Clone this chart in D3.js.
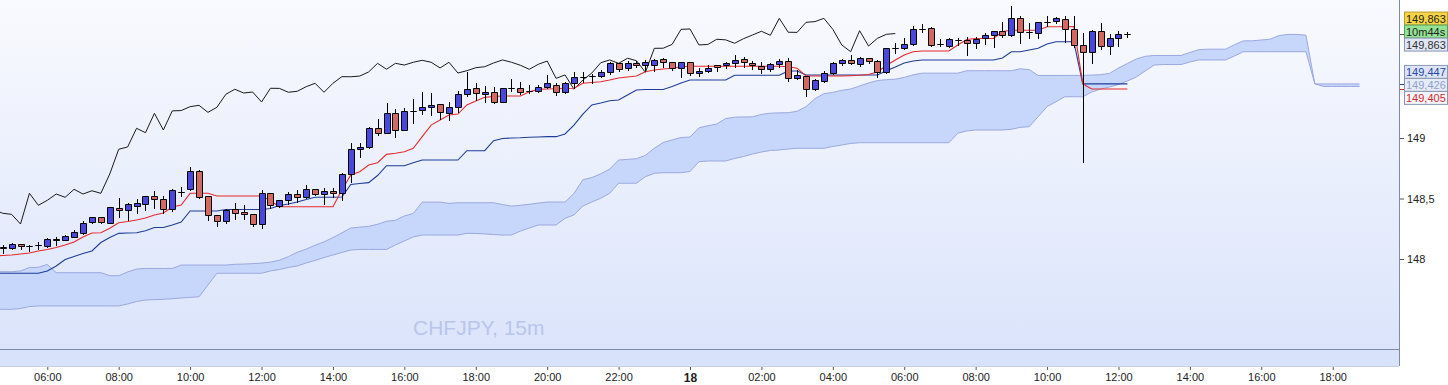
<!DOCTYPE html>
<html><head><meta charset="utf-8">
<script src="https://cdn.jsdelivr.net/npm/d3@7"></script>
<style>html,body{margin:0;padding:0;background:#fff;}svg{display:block;font-family:"Liberation Sans",Arial,sans-serif;}</style>
</head><body><svg id="c" width="1448" height="385"></svg>
<script>
const symbol = "CHFJPY, 15m";
const candleStart = "2023-04-17T04:45:00Z";   // first candle
const lineStart = "2023-04-17T04:30:00Z";     // first value of tenkan/kijun/cloud arrays
const barMinutes = 15;
const chikouShift = 26;

const open = [148.102,148.089,148.122,148.111,148.116,
148.108,148.163,148.157,148.185,148.218,148.303,148.345,148.300,148.424,148.403,
148.441,148.455,148.519,148.494,148.411,148.556,148.576,148.725,148.521,148.361,
148.317,148.411,148.386,148.369,148.292,148.543,148.441,148.488,148.537,148.510,
148.576,148.537,148.559,148.543,148.700,148.907,148.924,149.080,149.044,149.204,
149.064,149.226,149.232,149.259,149.278,149.204,149.254,149.361,149.411,149.364,
149.380,149.298,149.411,149.416,149.389,149.386,149.424,149.438,149.378,149.452,
149.507,149.513,149.513,149.546,149.617,149.576,149.617,149.603,149.601,149.655,
149.626,149.579,149.626,149.540,149.554,149.601,149.601,149.617,149.650,149.617,
149.595,149.568,149.609,149.634,149.498,149.513,149.405,149.474,149.535,149.617,
149.645,149.609,149.659,149.639,149.543,149.741,149.741,149.774,149.900,149.907,
149.774,149.763,149.810,149.810,149.783,149.824,149.849,149.882,149.849,149.989,
149.874,149.865,149.961,149.967,149.981,149.898,149.769,149.708,149.887,149.760,
149.824,149.861];
const high = [148.112,148.129,148.124,148.114,148.144,
148.172,148.180,148.201,148.240,148.311,148.350,148.348,148.430,148.502,148.460,
148.494,148.521,148.565,148.521,148.576,148.598,148.758,148.736,148.521,148.361,
148.416,148.465,148.444,148.369,148.570,148.543,148.490,148.551,148.570,148.611,
148.580,148.584,148.584,148.708,148.962,148.962,149.094,149.155,149.287,149.237,
149.246,149.320,149.380,149.369,149.280,149.298,149.386,149.548,149.452,149.430,
149.419,149.414,149.485,149.463,149.438,149.438,149.521,149.457,149.465,149.548,
149.548,149.529,149.562,149.631,149.620,149.636,149.636,149.645,149.650,149.658,
149.629,149.631,149.629,149.576,149.601,149.606,149.631,149.686,149.667,149.639,
149.631,149.622,149.650,149.659,149.562,149.516,149.485,149.551,149.628,149.650,
149.686,149.667,149.662,149.642,149.744,149.783,149.829,149.926,149.940,149.915,
149.816,149.826,149.826,149.832,149.837,149.865,149.885,149.956,150.094,150.010,
149.953,149.960,150.010,150.002,150.010,150.010,149.865,149.890,149.953,149.857,
149.884,149.878];
const low = [148.053,148.083,148.081,148.069,148.083,
148.102,148.114,148.155,148.180,148.209,148.295,148.300,148.298,148.350,148.322,
148.383,148.405,148.419,148.383,148.397,148.521,148.570,148.508,148.322,148.276,
148.295,148.328,148.333,148.276,148.259,148.419,148.428,148.455,148.474,148.508,
148.532,148.452,148.516,148.488,148.634,148.841,148.918,149.027,149.040,149.006,
149.062,149.127,149.196,149.190,149.160,149.149,149.218,149.347,149.314,149.300,
149.287,149.295,149.391,149.364,149.369,149.380,149.411,149.358,149.369,149.411,
149.465,149.452,149.502,149.529,149.556,149.562,149.589,149.556,149.556,149.589,
149.562,149.502,149.523,149.513,149.548,149.556,149.576,149.589,149.589,149.568,
149.540,149.551,149.589,149.474,149.485,149.350,149.397,149.465,149.529,149.603,
149.609,149.598,149.622,149.502,149.540,149.700,149.738,149.769,149.879,149.763,
149.760,149.755,149.769,149.686,149.746,149.774,149.755,149.837,149.846,149.788,
149.824,149.824,149.926,149.953,149.791,149.755,148.800,149.617,149.733,149.692,
149.760,149.837];
const close = [148.089,148.122,148.108,148.110,148.117,
148.163,148.160,148.190,148.223,148.295,148.345,148.303,148.427,148.403,148.457,
148.461,148.519,148.496,148.411,148.568,148.557,148.725,148.510,148.361,148.317,
148.408,148.378,148.369,148.289,148.543,148.444,148.485,148.537,148.510,148.576,
148.537,148.564,148.543,148.703,148.907,148.926,149.080,149.044,149.204,149.066,
149.224,149.227,149.259,149.270,149.212,149.254,149.361,149.403,149.372,149.380,
149.298,149.411,149.410,149.378,149.386,149.424,149.452,149.378,149.452,149.507,
149.506,149.512,149.546,149.617,149.568,149.617,149.603,149.626,149.642,149.626,
149.579,149.626,149.537,149.556,149.581,149.589,149.620,149.645,149.626,149.601,
149.568,149.609,149.636,149.493,149.521,149.403,149.479,149.537,149.622,149.645,
149.617,149.659,149.639,149.543,149.741,149.742,149.774,149.898,149.901,149.769,
149.773,149.816,149.811,149.783,149.821,149.851,149.882,149.849,149.989,149.874,
149.873,149.956,149.962,149.989,149.898,149.769,149.713,149.887,149.760,149.824,
149.857,149.863];

const tenkan = [148.025,148.029,148.033,148.041,148.050,148.066,
148.079,148.095,148.116,148.141,148.182,148.215,148.217,148.254,148.300,148.310,
148.322,148.339,148.364,148.380,148.430,148.446,148.543,148.543,148.543,148.521,
148.521,148.521,148.521,148.521,148.521,148.482,148.432,148.432,148.432,148.432,
148.432,148.432,148.432,148.570,148.694,148.721,148.777,148.796,148.865,148.874,
148.887,148.915,149.011,149.107,149.149,149.190,149.198,149.273,149.306,149.336,
149.343,149.347,149.347,149.347,149.383,149.402,149.405,149.407,149.409,149.411,
149.452,149.459,149.465,149.479,149.496,149.504,149.512,149.548,149.562,149.570,
149.576,149.589,149.593,149.593,149.593,149.593,149.593,149.593,149.593,149.593,
149.593,149.593,149.593,149.589,149.576,149.512,149.512,149.512,149.512,149.512,
149.515,149.518,149.525,149.546,149.599,149.645,149.686,149.713,149.719,149.719,
149.719,149.719,149.769,149.814,149.822,149.822,149.822,149.880,149.890,149.890,
149.890,149.890,149.920,149.920,149.920,149.922,149.447,149.405,149.405,149.405,
149.405,149.405];
const kijun = [147.882,147.882,147.882,147.882,147.882,147.882,
147.901,147.942,147.996,148.021,148.046,148.066,148.136,148.178,148.212,148.215,
148.217,148.234,148.260,148.260,148.281,148.306,148.397,148.397,148.397,148.397,
148.409,148.409,148.409,148.409,148.409,148.417,148.442,148.455,148.471,148.492,
148.510,148.510,148.510,148.512,148.616,148.624,148.631,148.690,148.771,148.771,
148.771,148.796,148.818,148.818,148.818,148.818,148.818,148.895,148.895,148.895,
148.978,148.996,149.000,149.002,149.006,149.008,149.011,149.011,149.033,149.107,
149.198,149.273,149.289,149.308,149.314,149.355,149.397,149.401,149.401,149.401,
149.426,149.455,149.479,149.479,149.479,149.479,149.479,149.518,149.518,149.518,
149.518,149.518,149.518,149.554,149.554,149.521,149.521,149.521,149.521,149.521,
149.521,149.521,149.521,149.521,149.556,149.587,149.620,149.636,149.645,149.645,
149.645,149.645,149.645,149.645,149.645,149.645,149.645,149.661,149.713,149.713,
149.727,149.741,149.777,149.795,149.795,149.795,149.447,149.447,149.447,149.447,
149.447,149.447];
const spanA = [147.895,147.895,147.895,147.901,147.930,147.931,
147.955,147.887,147.887,147.887,147.887,147.887,147.887,147.862,147.862,147.893,
147.917,147.922,147.922,147.922,147.922,147.950,147.950,147.950,147.950,147.950,
147.950,147.956,147.958,147.962,147.966,147.974,147.990,148.019,148.056,148.081,
148.114,148.141,148.177,148.216,148.256,148.263,148.270,148.287,148.312,148.320,
148.356,148.376,148.470,148.470,148.470,148.459,148.465,148.465,148.465,148.465,
148.465,148.450,148.437,148.444,148.452,148.462,148.471,148.471,148.471,148.541,
148.655,148.673,148.704,148.743,148.818,148.823,148.829,148.856,148.915,148.963,
148.984,149.004,149.008,149.084,149.101,149.116,149.161,149.172,149.174,149.175,
149.195,149.205,149.208,149.209,149.221,149.259,149.325,149.366,149.377,149.394,
149.405,149.430,149.455,149.475,149.482,149.486,149.501,149.522,149.536,149.536,
149.536,149.536,149.536,149.556,149.556,149.556,149.556,149.556,149.556,149.572,
149.565,149.517,149.517,149.517,149.517,149.517,149.518,149.520,149.523,149.534,
149.578,149.616,149.653,149.675,149.682,149.682,149.682,149.682,149.707,149.730,
149.734,149.734,149.734,149.771,149.803,149.803,149.810,149.817,149.847,149.856,
149.856,149.850,149.447,149.426,149.426,149.426,149.426,149.426];
const spanB = [147.584,147.584,147.584,147.591,147.607,147.612,
147.612,147.612,147.612,147.612,147.612,147.612,147.612,147.612,147.612,147.628,
147.649,147.661,147.664,147.667,147.672,147.678,147.683,147.688,147.785,147.882,
147.882,147.882,147.882,147.882,147.882,147.901,147.913,147.930,147.942,147.967,
147.988,148.012,148.033,148.054,148.074,148.079,148.079,148.079,148.079,148.116,
148.149,148.182,148.198,148.198,148.198,148.198,148.198,148.212,148.211,148.207,
148.202,148.198,148.198,148.231,148.256,148.281,148.281,148.281,148.336,148.364,
148.438,148.471,148.502,148.543,148.626,148.626,148.626,148.680,148.708,148.713,
148.713,148.713,148.723,148.804,148.810,148.810,148.810,148.831,148.847,148.868,
148.884,148.897,148.901,148.909,148.915,148.915,148.915,148.915,148.930,148.942,
148.955,148.961,148.961,148.961,148.961,148.961,148.961,148.961,148.961,148.961,
148.961,148.961,149.039,149.058,149.066,149.066,149.066,149.066,149.072,149.088,
149.093,149.176,149.259,149.300,149.341,149.341,149.341,149.380,149.405,149.422,
149.442,149.471,149.504,149.554,149.603,149.607,149.607,149.607,149.628,149.645,
149.645,149.645,149.645,149.678,149.713,149.713,149.713,149.713,149.713,149.713,
149.713,149.713,149.447,149.447,149.447,149.447,149.447,149.447];

const yTicks = [148, 148.5, 149];
const xTicks = ["2023-04-17T06:00:00Z","2023-04-17T08:00:00Z","2023-04-17T10:00:00Z","2023-04-17T12:00:00Z",
"2023-04-17T14:00:00Z","2023-04-17T16:00:00Z","2023-04-17T18:00:00Z","2023-04-17T20:00:00Z","2023-04-17T22:00:00Z",
"2023-04-18T00:00:00Z","2023-04-18T02:00:00Z","2023-04-18T04:00:00Z","2023-04-18T06:00:00Z","2023-04-18T08:00:00Z",
"2023-04-18T10:00:00Z","2023-04-18T12:00:00Z","2023-04-18T14:00:00Z","2023-04-18T16:00:00Z","2023-04-18T18:00:00Z"];
const countdown = "10m44s";
const lastClose = 149.863, lastKijun = 149.447, lastSpan = 149.426, lastTenkan = 149.405;

// ---------------------------------------------------------------
const W = 1448, H = 385, PR = 1399, PB = 349, AB = 366;
const svg = d3.select("#c");
const fmt = d3.formatLocale({decimal: ",", thousands: " ", grouping: [3], currency: ["", ""]});
const fmtP = fmt.format(".3f");

const x = d3.scaleUtc()
  .domain([new Date("2023-04-17T06:00:00Z"), new Date("2023-04-18T12:15:00Z")])
  .range([47.3, 1127.4]);
const y = d3.scaleLinear().domain([148, 149]).range([259, 138]);

const tAt = (start, i) => new Date(Date.parse(start) + i * barMinutes * 60000);
const candles = open.map((o, i) => ({t: tAt(candleStart, i), o, h: high[i], l: low[i], c: close[i]}));
const lineData = arr => arr.map((v, i) => ({t: tAt(lineStart, i), v}));
const chikou = close.map((v, i) => ({t: tAt(candleStart, i - chikouShift), v}));

const defs = svg.append("defs");
const g = defs.append("linearGradient").attr("id", "bg").attr("x1", 0).attr("y1", 0).attr("x2", 0).attr("y2", 1);
g.append("stop").attr("offset", "0").attr("stop-color", "#f9fafe");
g.append("stop").attr("offset", "1").attr("stop-color", "#dbe4fb");
defs.append("clipPath").attr("id", "clip").append("rect").attr("x", 0).attr("y", 0).attr("width", PR).attr("height", PB);

svg.append("rect").attr("width", W).attr("height", H).attr("fill", "#fff");
svg.append("rect").attr("x", 0).attr("y", 0).attr("width", PR).attr("height", PB).attr("fill", "url(#bg)");
svg.append("rect").attr("x", 0).attr("y", PB).attr("width", PR).attr("height", AB - PB).attr("fill", "#d8e2fb");

svg.append("text").attr("x", 413).attr("y", 335).attr("font-size", 21).attr("fill", "#b9c5ea").text(symbol);

const plot = svg.append("g").attr("clip-path", "url(#clip)");

// cloud
const A = lineData(spanA), B = lineData(spanB);
const cloud = A.map((d, i) => ({t: d.t, a: d.v, b: B[i].v}));
plot.append("path").datum(cloud)
  .attr("d", d3.area().x(d => x(d.t)).y0(d => y(d.b)).y1(d => y(d.a)))
  .attr("fill", "#c7d6fb");
const line = d3.line().x(d => x(d.t)).y(d => y(d.v));
plot.append("path").datum(A).attr("d", line).attr("fill", "none").attr("stroke", "#9ba8df").attr("stroke-width", 1);
plot.append("path").datum(B).attr("d", line).attr("fill", "none").attr("stroke", "#9ba8df").attr("stroke-width", 1);

// lines
plot.append("path").datum(chikou).attr("d", line).attr("fill", "none").attr("stroke", "#1a1a1a").attr("stroke-width", 1);
plot.append("path").datum(lineData(kijun)).attr("d", line).attr("fill", "none").attr("stroke", "#1e3d99").attr("stroke-width", 1.1);
plot.append("path").datum(lineData(tenkan)).attr("d", line).attr("fill", "none").attr("stroke", "#e52b2b").attr("stroke-width", 1.1);

// candles
const cg = plot.append("g");
candles.forEach(d => {
  const cx = Math.round(x(d.t));
  const up = d.c >= d.o;
  cg.append("line").attr("x1", cx + 0.5).attr("x2", cx + 0.5)
    .attr("y1", Math.round(y(d.h))).attr("y2", Math.round(y(d.l)) + 1)
    .attr("stroke", "#000").attr("stroke-width", 1);
  const t = Math.round(y(Math.max(d.o, d.c))) + 0.5, b = Math.round(y(Math.min(d.o, d.c))) + 0.5;
  cg.append("path").attr("d", `M${cx - 2.5},${t}H${cx + 3.5}V${b}H${cx - 2.5}Z`)
    .attr("fill", up ? "#4848dc" : "#d2685f").attr("stroke", "#000").attr("stroke-width", 1);
});

// frame lines
svg.append("line").attr("x1", 0).attr("x2", PR).attr("y1", PB + 0.5).attr("y2", PB + 0.5).attr("stroke", "#7d8ca4");
svg.append("line").attr("x1", PR + 0.5).attr("x2", PR + 0.5).attr("y1", 0).attr("y2", AB).attr("stroke", "#7d8ca4");
svg.append("line").attr("x1", 0).attr("x2", PR).attr("y1", AB + 0.5).attr("y2", AB + 0.5).attr("stroke", "#c8d2e6");

// y axis
const ya = svg.append("g").attr("transform", `translate(${PR + 1},0)`)
  .call(d3.axisRight(y).tickValues(yTicks).tickSize(4).tickPadding(3).tickFormat(d => fmt.format("~g")(d)));
ya.select(".domain").remove();
ya.selectAll("line").attr("stroke", "#555");
ya.selectAll("text").attr("font-size", 11).attr("fill", "#222").attr("font-family", "Liberation Sans, Arial, sans-serif");

// x axis
const xa = svg.append("g").attr("transform", `translate(0,${AB + 1})`)
  .call(d3.axisBottom(x).tickValues(xTicks.map(s => new Date(s))).tickSize(3).tickPadding(3)
    .tickFormat(d => d.getUTCHours() === 0 ? d3.utcFormat("%-d")(d) : d3.utcFormat("%H:%M")(d)));
xa.select(".domain").remove();
xa.selectAll("line").attr("stroke", "#555");
xa.selectAll("text").attr("fill", "#222").attr("font-family", "Liberation Sans, Arial, sans-serif")
  .attr("font-weight", d => d.getUTCHours() === 0 ? "bold" : null)
  .attr("font-size", d => d.getUTCHours() === 0 ? 12 : 11);

// right price labels (stacked so they do not cover each other)
function tag(cy, txt, bg, border, color) {
  const gg = svg.append("g");
  gg.append("rect").attr("x", 1404.5).attr("y", cy - 6.5).attr("width", 43).attr("height", 13)
    .attr("fill", bg).attr("stroke", border);
  gg.append("text").attr("x", 1406).attr("y", cy + 4).attr("font-size", 11).attr("fill", color).text(txt);
}
function ptr(val, color) {
  svg.append("line").attr("x1", PR + 1).attr("x2", 1404).attr("y1", Math.round(y(val)) + 0.5).attr("y2", Math.round(y(val)) + 0.5).attr("stroke", color);
}
const yc = y(lastClose);
tag(yc - 15, fmtP(lastClose), "#f6d444", "#b89a30", "#222");
tag(yc - 2, countdown, "#94e294", "#5aa05a", "#222");
tag(yc + 11, fmtP(lastClose), "#dfe6f6", "#8797b5", "#333");
const yk = y(lastKijun);
tag(yk - 12, fmtP(lastKijun), "#dde4f6", "#8797b5", "#2845a8");
tag(yk + 1, fmtP(lastSpan), "#e6ebf8", "#8797b5", "#8fa0cf");
tag(yk + 14, fmtP(lastTenkan), "#f3f5fc", "#8797b5", "#d42a2a");
ptr(lastClose, "#555");
ptr(lastKijun, "#2845a8");
ptr(lastTenkan, "#d42a2a");
</script></body></html>
